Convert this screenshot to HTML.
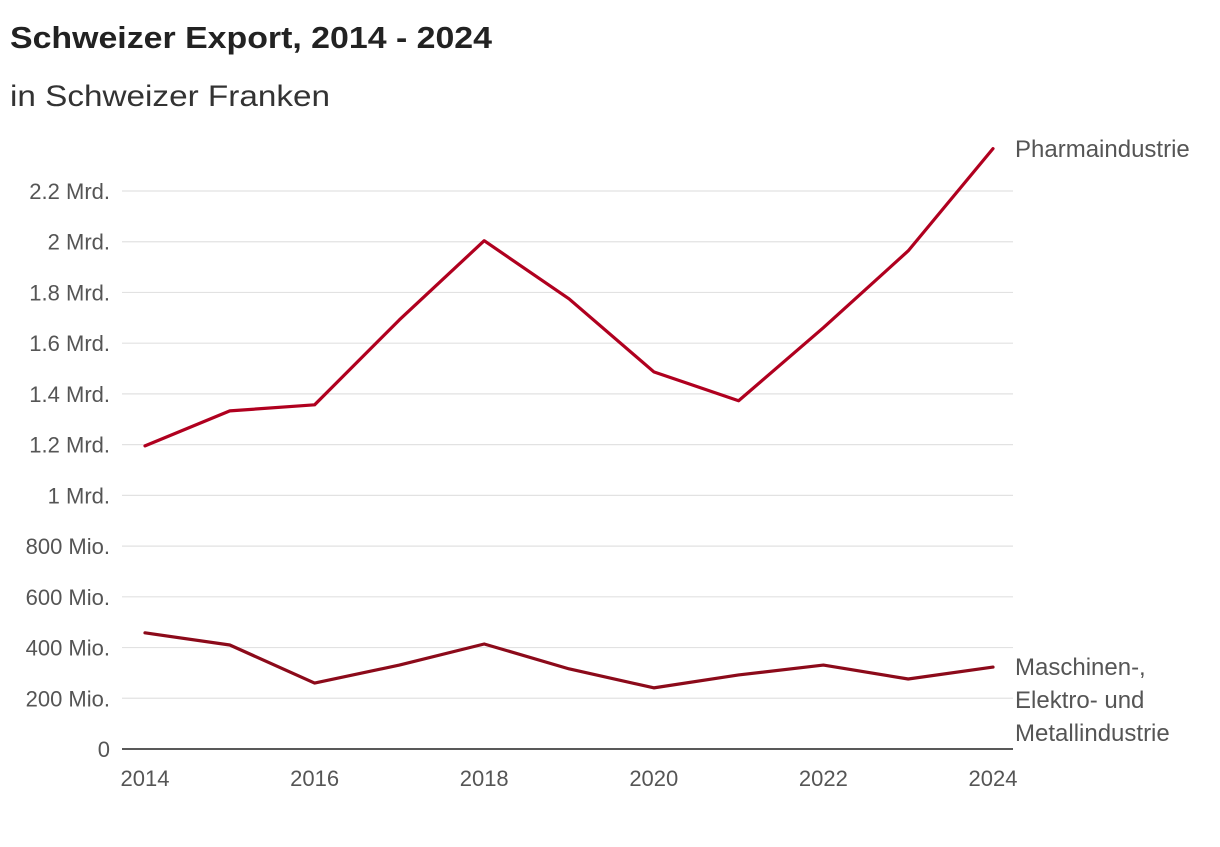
<!DOCTYPE html>
<html><head><meta charset="utf-8"><style>
body{margin:0;background:#fff;width:1220px;height:842px;overflow:hidden;font-family:"Liberation Sans","DejaVu Sans",sans-serif}
</style></head><body>
<svg width="1220" height="842">
<text x="10" y="48" font-size="31" font-weight="bold" fill="#222" textLength="482" lengthAdjust="spacingAndGlyphs">Schweizer Export, 2014 - 2024</text>
<text x="10" y="106" font-size="30" fill="#333" textLength="320" lengthAdjust="spacingAndGlyphs">in Schweizer Franken</text>
<g id="grid"></g><g id="lines"></g><g id="labels"></g>
</svg>
<script>
const years=[2014,2015,2016,2017,2018,2019,2020,2021,2022,2023,2024];
const pharma=[1195,1333,1357,1692,2004,1775,1487,1373,1661,1964,2367];
const machines=[458,410,260,331,414,316,241,292,331,276,323];
const yTicks=[0,200,400,600,800,1000,1200,1400,1600,1800,2000,2200];
const yTickLabels=["0","200 Mio.","400 Mio.","600 Mio.","800 Mio.","1 Mrd.","1.2 Mrd.","1.4 Mrd.","1.6 Mrd.","1.8 Mrd.","2 Mrd.","2.2 Mrd."];
const xTicks=[2014,2016,2018,2020,2022,2024];
const NS="http://www.w3.org/2000/svg";
const x=v=>145+(v-2014)*84.8;
const y=v=>749-v*(558/2200);
const g=document.getElementById('grid'),L=document.getElementById('lines'),T=document.getElementById('labels');
function mk(t,a,p){const e=document.createElementNS(NS,t);for(const k in a)e.setAttribute(k,a[k]);p.appendChild(e);return e;}
yTicks.forEach((v,i)=>{
 if(v>0){const l=mk('line',{x1:122,x2:1013,y1:y(v),y2:y(v),stroke:'#e2e2e2','stroke-width':1.2},g);
 
 }
 const t=mk('text',{x:110,y:y(v)+8,'text-anchor':'end','font-size':22,fill:'#555'},T);t.textContent=yTickLabels[i];
 
 
});
const ax=mk('line',{x1:122,x2:1013,y1:749,y2:749,stroke:'#222','stroke-width':1.5},g);


xTicks.forEach(v=>{const t=mk('text',{x:x(v),y:786,'text-anchor':'middle','font-size':22,fill:'#555'},T);t.textContent=v;
 
 });
function line(data,col,name){const p=mk('polyline',{points:data.map((v,i)=>x(years[i])+','+y(v)).join(' '),fill:'none',stroke:col,'stroke-width':3.2,'stroke-linejoin':'round','stroke-linecap':'round'},L);
 
 }
line(pharma,'#b0001f','pharma-line');
line(machines,'#8c0a1a','machines-line');
function lab(lines,yy,name,fs){const t=mk('text',{x:1015,y:yy,'font-size':fs,fill:'#555'},T);
 
 
 lines.forEach((s,i)=>{const ts=mk('tspan',{x:1015,dy:i?33:0},t);ts.textContent=s;});}
lab(['Pharmaindustrie'],157,'pharma-label',24);
lab(['Maschinen-,','Elektro- und','Metallindustrie'],675,'machines-label',24);
</script>
</body></html>
